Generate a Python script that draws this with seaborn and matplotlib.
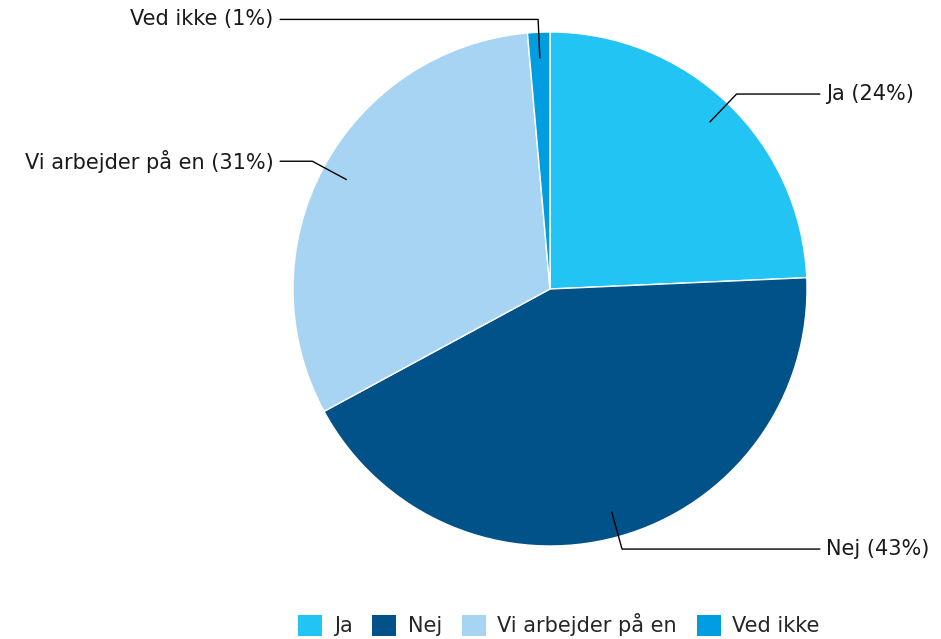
import numpy as np
import matplotlib
matplotlib.use("Agg")
import matplotlib.pyplot as plt
import seaborn as sns
from matplotlib.patches import Patch

# data
categories = ["Ja", "Nej", "Vi arbejder på en", "Ved ikke"]
shares = [24.3, 42.8, 31.5, 1.4]
pct_labels = [24, 43, 31, 1]
colors = ["#22C4F4", "#005288", "#A8D4F4", "#009EE0"]

sns.set_theme(style="white")
plt.rcParams['font.family'] = ['DejaVu Sans']
palette = sns.color_palette(colors)

fig = plt.figure(figsize=(9.41, 6.39), dpi=100)
W, H = 941, 639
cx, cy, r = 550, 289, 257
ax = fig.add_axes([(cx - r) / W, (H - cy - r) / H, 2 * r / W, 2 * r / H])

wedges, _ = ax.pie(shares, colors=palette, startangle=90, counterclock=False,
                   radius=1, wedgeprops=dict(edgecolor="white", linewidth=1))
ax.set_xlim(-1, 1)
ax.set_ylim(-1, 1)
ax.axis("off")

# leader lines + labels
for w, cat, p in zip(wedges, categories, pct_labels):
    mid = np.deg2rad((w.theta1 + w.theta2) / 2)
    x0, y0 = 0.9 * np.cos(mid), 0.9 * np.sin(mid)
    x1, y1 = 1.05 * np.cos(mid), 1.05 * np.sin(mid)
    side = 1 if x1 > 0 else -1
    if abs(x1) < 0.1:
        side = -1
    x2 = 1.05 * side
    ax.plot([x0, x1, x2], [y0, y1, y1], color="black", lw=1, clip_on=False)
    ax.text(1.075 * side, y1, f"{cat} ({p}%)", ha="left" if side > 0 else "right",
            va="center", fontsize=15, color="#1a1a1a")

handles = [Patch(facecolor=c, edgecolor="none") for c in colors]
fig.legend(handles, categories, loc="center", bbox_to_anchor=(0.594, 0.022),
           ncol=4, frameon=False, fontsize=15, handlelength=1.15, handleheight=1.15,
           handletextpad=0.55, columnspacing=0.95)

plt.savefig("out.png", dpi=100)
plt.close()
